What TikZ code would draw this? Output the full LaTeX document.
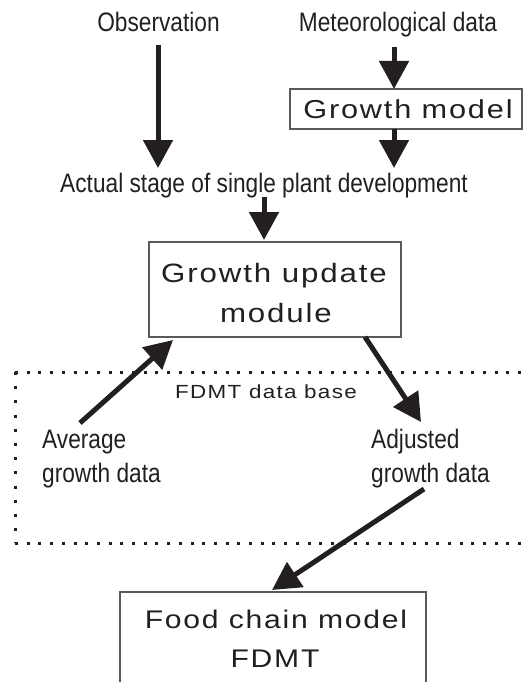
\documentclass[tikz,border=0pt]{standalone}
\usepackage{fontspec}
\setmainfont{Liberation Sans}
\newfontfamily\narrowfont[FakeStretch=0.85]{Liberation Sans}
\newfontfamily\widefont[FakeStretch=1.18,LetterSpace=7]{Liberation Sans}
\usetikzlibrary{arrows.meta}
\definecolor{ink}{HTML}{231F20}
\definecolor{frame}{HTML}{5A5A5A}

\begin{document}
\begin{tikzpicture}[x=1pt,y=-1pt,
  narrowtext/.style={font=\narrowfont\fontsize{26.7}{34}\selectfont, text=ink, inner sep=0pt, anchor=base},
  widetext/.style={font=\widefont\fontsize{#1}{#1}\selectfont, text=ink, inner sep=0pt, anchor=base},
  modbox/.style={draw=frame, line width=1.2pt, inner sep=0pt, fill=white},
  flow/.style={draw=ink, line width=5pt, -{Triangle[length=28pt,width=29pt]}},
  dotline/.style={draw=ink, line width=3pt, dash pattern=on 3pt off 8.7pt}
]
\useasboundingbox (0,0) rectangle (527,682);

% FDMT data base region (open on the right)
\draw[dotline] (15,372) -- (545,372);
\draw[dotline] (15,543) -- (545,543);
\draw[dotline, dash pattern=on 3pt off 11.2pt] (15,372) -- (15,543);

% boxes
\node[modbox, minimum width=232pt, minimum height=40pt] (gm) at (406,109) {};
\node[modbox, minimum width=252pt, minimum height=95pt] (gum) at (275,289.5) {};
\node[modbox, minimum width=306pt, minimum height=110pt] (food) at (273,647) {};

% texts
\node[narrowtext] (obs) at (158.5,32) {Observation};
\node[narrowtext] (met) at (398,32) {Meteorological data};
\node[widetext=26] (gmtxt) at (408,119) {Growth model};
\node[narrowtext] (act) at (264,192) {Actual stage of single plant development};
\node[widetext=26.5] (gum1) at (274,282) {Growth update};
\node[widetext=26.5] (gum2) at (276,322) {module};
\node[widetext=19] (db) at (266,398) {FDMT data base};
\node[narrowtext, anchor=base west] (avg1) at (42,448) {Average};
\node[narrowtext, anchor=base west] (avg2) at (42,482) {growth data};
\node[narrowtext, anchor=base west] (adj1) at (371,448) {Adjusted};
\node[narrowtext, anchor=base west] (adj2) at (371,482) {growth data};
\node[widetext=25.5] (food1) at (276,628) {Food chain model};
\node[widetext=25.5] (food2) at (275,667) {FDMT};

% connector end points
\coordinate (obsS) at (158,45);
\coordinate (actNW) at (158,168);
\coordinate (metS) at (394,47);
\coordinate (gmN) at (394,89);
\coordinate (gmS) at (394,129);
\coordinate (actNE) at (394,168);
\coordinate (actS) at (264,197);
\coordinate (gumN) at (264,240);
\coordinate (avgN) at (80,423);
\coordinate (gumSW) at (173,340);
\coordinate (gumSE) at (365,337);
\coordinate (adjN) at (421,422);
\coordinate (adjS) at (424,489);
\coordinate (foodN) at (272,590);

% connectors
\draw[flow] (obsS) -- (actNW);
\draw[flow] (metS) -- (gmN);
\draw[flow] (gmS) -- (actNE);
\draw[flow] (actS) -- (gumN);
\draw[flow] (avgN) -- (gumSW);
\draw[flow] (gumSE) -- (adjN);
\draw[flow] (adjS) -- (foodN);
\end{tikzpicture}
\end{document}
